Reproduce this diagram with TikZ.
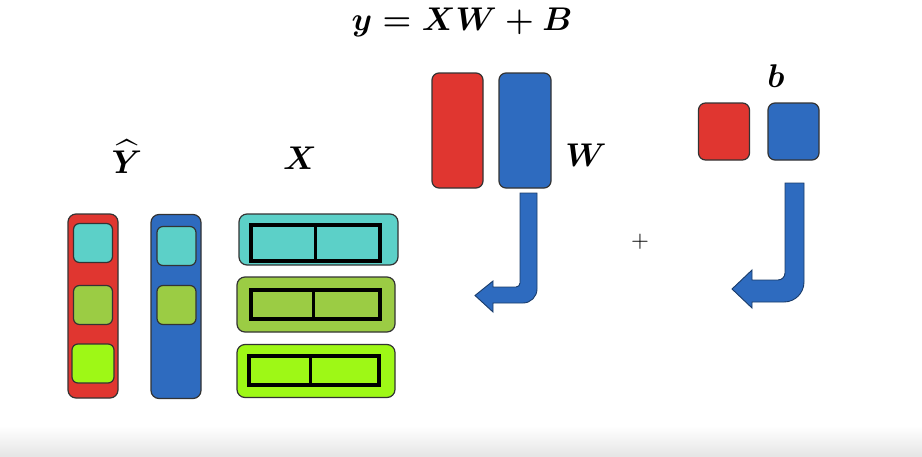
\documentclass[tikz,border=0pt]{standalone}
\usepackage{amsmath}
\usepackage{amssymb}
\usepackage{bm}
\usetikzlibrary{positioning}
\definecolor{cellred}{RGB}{224,54,48}
\definecolor{cellblue}{RGB}{46,107,191}
\definecolor{cellcyan}{RGB}{92,208,200}
\definecolor{cellolive}{RGB}{155,204,68}
\definecolor{celllime}{RGB}{158,248,22}

\begin{document}
\begin{tikzpicture}[x=1pt, y=-1pt, col/.style={rounded corners=8pt, draw=black!80, line width=1.2pt, minimum width=50pt, minimum height=184pt, inner sep=0pt}, cell/.style={rounded corners=6pt, draw=black!80, line width=1.2pt, minimum size=39pt, inner sep=0pt}, row/.style={rounded corners=8pt, draw=black!80, line width=1.2pt, minimum width=158pt, minimum height=53pt, inner sep=0pt}, slot/.style={draw=black, line width=3.2pt, minimum width=129pt, minimum height=29pt, inner sep=0pt}, weight/.style={rounded corners=7pt, draw=black!80, line width=1.2pt, minimum width=51pt, minimum height=115pt, inner sep=0pt}, bias/.style={rounded corners=7pt, draw=black!80, line width=1.2pt, minimum width=51pt, minimum height=57pt, inner sep=0pt}, turnarrow/.style={fill=cellblue, draw=cellblue!55!black, line width=0.9pt}, lbl/.style={font=\fontsize{29}{34}\selectfont\boldmath, scale=1.32, transform shape}]

    \useasboundingbox (0,0) rectangle (922,456);
    \shade[top color=white, bottom color=black!10] (0,426) rectangle (922,456);

    %Title
    \node[lbl](title) at (462,22){$y = XW + B$};

    %Y hat
    \node[col, fill=cellred](y_red) at (93,306){};
    \node[cell, fill=cellcyan](y_red_1) at (93,243){};
    \node[cell, fill=cellolive](y_red_2) at (93,305){};
    \node[cell, fill=celllime, minimum width=42pt](y_red_3) at (93,363.5){};
    \node[col, fill=cellblue](y_blue) at (176,306.5){};
    \node[cell, fill=cellcyan](y_blue_1) at (176.5,246){};
    \node[cell, fill=cellolive](y_blue_2) at (176.5,305){};
    \node[lbl](y_text) at (127,157){$\widehat{Y}$};

    %X
    \node[row, fill=cellcyan, minimum width=159pt, minimum height=51pt](x_row_1) at (318.5,239.5){};
    \node[slot, fill=cellcyan, minimum height=36pt](x_slot_1) at (315.5,243){};
    \node[row, fill=cellolive, minimum height=55pt](x_row_2) at (316,304.5){};
    \node[slot, fill=cellolive](x_slot_2) at (315.5,304.5){};
    \node[row, fill=celllime](x_row_3) at (316,371){};
    \node[slot, fill=celllime, minimum width=130pt](x_slot_3) at (314,370.5){};
    \node[lbl](x_text) at (300,158){$X$};

    %W
    \node[lbl](w_text) at (586,155){$W$};
    \node[weight, fill=cellred](w_red) at (457.5,130.5){};
    \node[weight, fill=cellblue, minimum width=52pt](w_blue) at (525,130.5){};

    %b
    \node[lbl](b_text) at (776,76){$b$};
    \node[bias, fill=cellred](b_red) at (724,131.5){};
    \node[bias, fill=cellblue](b_blue) at (793.5,131.5){};

    \node[font=\normalsize, scale=2.3, transform shape](plus) at (640,242){$+$};

    %Lines
    \draw[line width=3pt] (x_slot_1.north) -- (x_slot_1.south);
    \draw[line width=3pt] ([xshift=-2.5pt]x_slot_2.north) -- ([xshift=-2.5pt]x_slot_2.south);
    \draw[line width=3pt] ([xshift=-4pt]x_slot_3.north) -- ([xshift=-4pt]x_slot_3.south);

    \draw[turnarrow] (520,193) -- (537,193) [rounded corners=14pt] -- (537,303) [sharp corners] -- (493,303) -- (493,312) -- (475,295.5) -- (493,281) -- (493,287) [rounded corners=4pt] -- (520,287) [sharp corners] -- cycle;
    \draw[turnarrow] (785,183) -- (804,183) [rounded corners=20pt] -- (804,302) [sharp corners] -- (752,302) -- (752,308) -- (732,289) -- (752,270) -- (752,280) [rounded corners=7pt] -- (785,280) [sharp corners] -- cycle;

\end{tikzpicture}
\end{document}
